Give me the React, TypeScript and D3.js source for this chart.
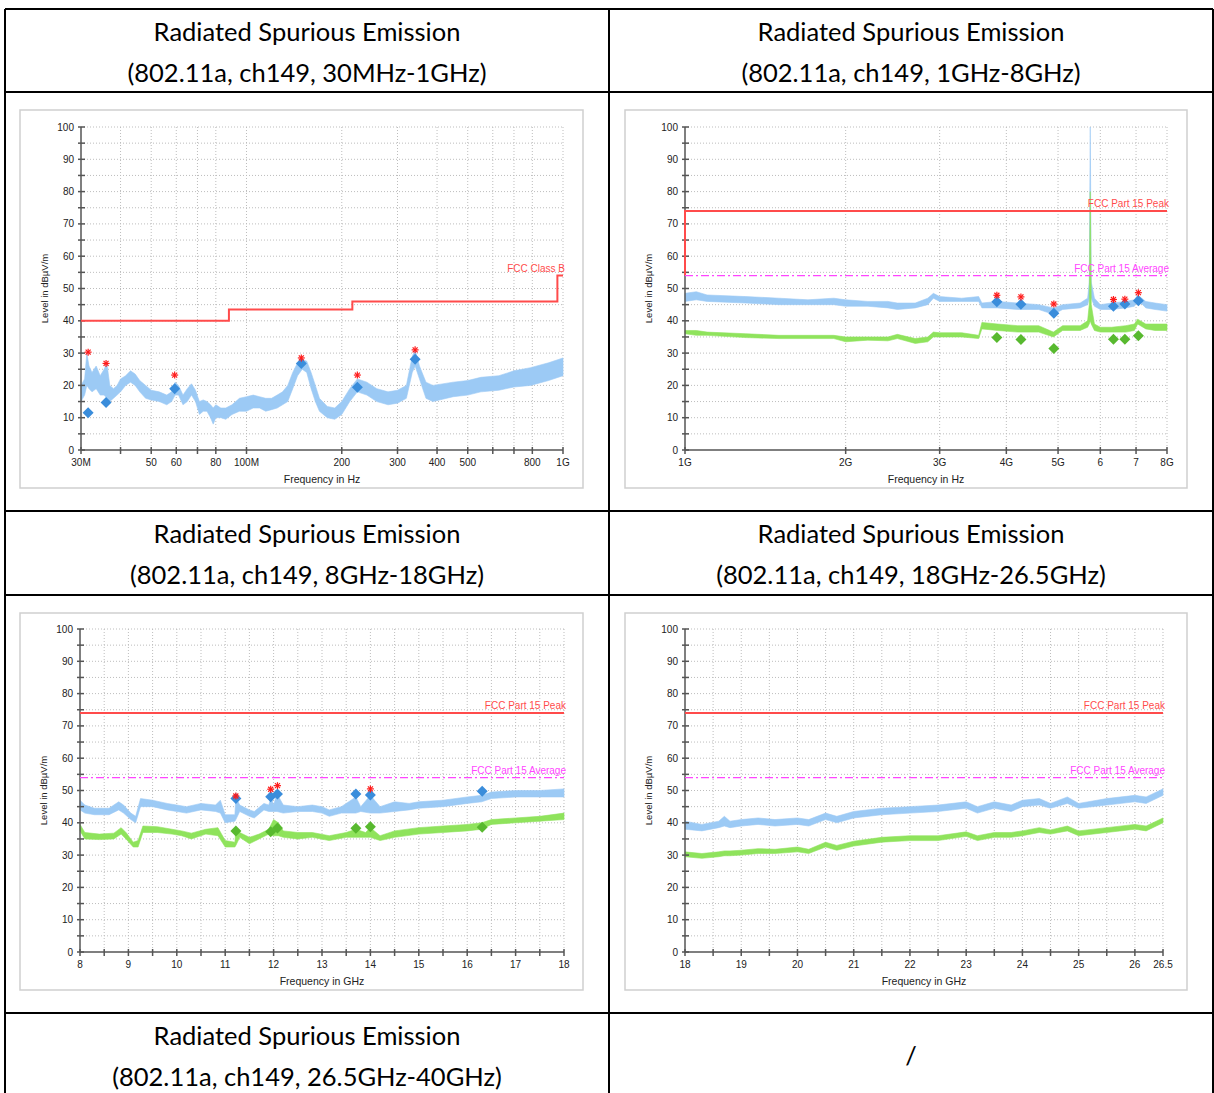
import React from 'react'
import * as d3 from 'd3'

// ---------- chart 1: 30MHz - 1GHz (MHz) ----------
const c1Freq = [30, 30.8, 31.3, 31.8, 32.5, 33.5, 34.5, 35.5, 36.2, 37, 38, 39, 40, 41.5, 43, 44.5, 46, 48, 50, 53, 56, 58, 59.5, 61, 63, 65, 67, 69, 71, 73, 75, 77, 78.5, 80, 83, 86, 90, 95, 100, 105, 110, 115, 120, 125, 130, 135, 140, 145, 150, 155, 160, 165, 170, 180, 190, 200, 212, 224, 240, 258, 280, 300, 320, 334, 341, 352, 369, 388, 450, 500, 550, 627, 700, 790, 900, 1000]
const c1Lo = [15, 17, 20, 19, 18, 19, 17, 17, 16, 15, 16, 17, 18, 20, 21, 20, 18, 16, 15.5, 15, 14, 15, 17, 17, 14, 15, 17, 15, 11, 12, 12, 10, 8, 10, 10, 9.5, 11, 12, 12, 13, 13, 12, 12.5, 13, 14, 15, 19, 23, 25, 24, 19, 15, 12, 10, 9.5, 11, 15, 18, 17, 15, 14, 14.5, 16, 24, 26, 22, 16, 15, 16.5, 17, 18, 18.5, 19.5, 20, 21.5, 23]
const c1Hi = [20, 22, 30, 26, 24, 26, 23, 25, 27, 20, 19, 20, 22, 23, 24.5, 23.5, 21.5, 20, 18.5, 18, 17, 18, 21, 20, 17, 19, 20.5, 18.5, 15, 15.5, 15, 14, 13, 14, 13, 13, 14, 16, 16.5, 17, 16.5, 16, 16, 17, 18, 20, 24, 27, 28, 27.5, 24, 20, 16, 13.5, 13, 15, 19, 22, 21, 19, 18, 18.5, 20, 29, 31, 26, 21, 20, 21, 21.5, 22.5, 23, 24.5, 25.5, 27, 28.5]
const c1LimitFreq = [30, 88, 88, 216, 216, 960, 960, 1000]
const c1LimitLevel = [40, 40, 43.5, 43.5, 46, 46, 54, 54]
const c1MarkFreq = [31.6, 36.0, 59.3, 149, 224, 341]
const c1StarLevel = [30.3, 26.8, 23.2, 28.5, 23.2, 31.0]
const c1QpLevel = [11.5, 14.7, 19.0, 26.8, 19.4, 28.1]
const c1Ticks = [30, 40, 50, 60, 70, 80, 100, 200, 300, 400, 500, 600, 700, 800, 1000]
const c1TickLabels = ['30M', '', '50', '60', '', '80', '100M', '200', '300', '400', '500', '', '', '800', '1G']

// ---------- chart 2: 1GHz - 8GHz (GHz) ----------
const c2Freq = [1.0, 1.05, 1.1, 1.3, 1.5, 1.7, 1.9, 2.0, 2.2, 2.4, 2.5, 2.7, 2.85, 2.92, 3.0, 3.3, 3.55, 3.6, 3.85, 4.2, 4.6, 4.9, 5.1, 5.5, 5.68, 5.72, 5.745, 5.77, 5.85, 6.0, 6.3, 6.7, 6.95, 7.05, 7.3, 7.6, 8.0]
const c2BlueLo = [46, 46.5, 46, 45.5, 45, 45, 45, 44.5, 44.5, 44, 43.5, 44, 45, 47, 46, 46, 46, 44, 44, 43.5, 43.5, 42, 43.5, 44, 45, 47, 47, 47, 44.5, 43.5, 43.5, 44, 44.5, 46.5, 44, 43.5, 43]
const c2BlueHi = [48.5, 49, 48, 47.5, 47, 46.5, 47, 46.5, 46, 46, 45.5, 45.5, 47, 48.5, 47.5, 47, 47.5, 45.5, 46, 45.5, 45, 44, 45, 45.5, 47, 52, 100, 52, 47, 45, 45.5, 46, 46.5, 48, 46, 45.5, 45]
const c2GreenLo = [36, 35.5, 35.5, 34.8, 34.5, 34.5, 34.5, 33.5, 34, 33.8, 34.5, 33, 33.5, 35, 35, 35, 34.5, 37.5, 37, 36.5, 36.5, 35, 37, 37, 38, 39, 40, 39, 37, 36.5, 36.5, 36.5, 37, 39, 37.5, 37, 37]
const c2GreenHi = [37, 37, 36.5, 36, 35.5, 35.5, 35.5, 35, 35, 35, 35.8, 34.5, 35, 36.5, 36.3, 36.3, 35.5, 39.5, 39, 38.5, 38.5, 36.5, 38.5, 38.5, 40, 45, 80, 45, 39, 38, 38, 38.5, 39, 40.5, 39, 39, 39]
const c2MarkFreq = [3.84, 4.26, 4.91, 6.35, 6.67, 7.07]
const c2StarLevel = [47.9, 47.4, 45.2, 46.6, 46.7, 48.7]
const c2PeakLevel = [45.9, 45.1, 42.3, 44.5, 45.2, 46.2]
const c2AvgLevel = [34.8, 34.2, 31.4, 34.3, 34.3, 35.4]
const c2Ticks = [1, 2, 3, 4, 5, 6, 7, 8]
const c2TickLabels = ['1G', '2G', '3G', '4G', '5G', '6', '7', '8G']

// ---------- chart 3: 8GHz - 18GHz ----------
const c3Freq = [8.0, 8.1, 8.3, 8.6, 8.8, 8.9, 9.05, 9.15, 9.25, 9.5, 9.8, 10.0, 10.2, 10.5, 10.8, 10.9, 11.0, 11.2, 11.22, 11.3, 11.5, 11.6, 11.8, 11.9, 11.95, 12.0, 12.07, 12.2, 12.5, 12.8, 13.0, 13.15, 13.4, 13.7, 13.8, 14.0, 14.2, 14.5, 14.8, 15.0, 15.5, 16.0, 16.3, 16.5, 17.0, 17.5, 18.0]
const c3BlueLo = [44, 43, 42.5, 42.5, 44, 43, 41, 40, 45, 45, 44, 43.5, 43, 44, 43.5, 43, 40, 40.5, 41, 43.5, 42, 41.5, 44, 43.5, 43.5, 43.5, 43.5, 43, 43.5, 43.5, 43, 42, 43, 43, 43.5, 43, 43, 43.5, 44, 44.5, 45, 46, 46.5, 47.5, 48, 48, 48]
const c3BlueHi = [47, 45.5, 44.5, 44.5, 46.5, 45.5, 43, 42, 47.5, 47, 46, 45.5, 45, 46, 45.5, 47, 42.5, 42.5, 48, 45.5, 44, 43.5, 46, 45.5, 48, 45.5, 49, 45.5, 45, 45.5, 45, 44, 45, 48, 45, 48.5, 45, 46.5, 46, 46.5, 47, 48, 48.5, 49.5, 50, 50, 50.5]
const c3GreenFreq = [8.0, 8.1, 8.4, 8.7, 8.85, 8.95, 9.1, 9.2, 9.3, 9.6, 9.9, 10.1, 10.3, 10.6, 10.85, 11.0, 11.2, 11.22, 11.3, 11.5, 11.7, 11.9, 12.0, 12.1, 12.2, 12.5, 12.8, 13.15, 13.5, 13.7, 13.9, 14.0, 14.2, 14.5, 15.0, 15.5, 16.0, 16.3, 16.5, 17.0, 17.5, 18.0]
const c3GreenLo = [37.5, 35, 34.8, 35, 36.5, 35, 32.5, 32.5, 37, 37, 36.5, 36, 35, 36.5, 36, 32.5, 32.5, 33, 35.5, 33.5, 35, 36.5, 36, 36, 35.5, 35, 35.5, 34.5, 35.5, 35.5, 35.5, 35.5, 34.5, 35.5, 36.5, 37, 37.5, 38, 39.5, 40, 40.5, 41]
const c3GreenHi = [39.5, 37, 36.5, 36.8, 38.5, 37, 34, 34.5, 39, 38.8, 38, 37.5, 36.8, 38, 38.5, 34.5, 34, 38, 37, 35.5, 36.5, 38, 41, 40, 37.5, 37, 37, 36, 37, 38, 37, 38.5, 36, 37.5, 38.5, 39, 39.5, 40, 41, 41.5, 42, 43]
const c3MarkFreq = [11.22, 11.94, 12.08, 13.7, 14.0, 16.31]
const c3PeakLevel = [47.5, 48.1, 48.9, 48.9, 48.6, 49.8]
const c3AvgLevel = [37.5, 37.2, 38.4, 38.3, 38.8, 38.6]
const c3StarFreq = [11.22, 11.94, 12.08, 14.0]
const c3StarLevel = [48.3, 50.4, 51.5, 50.5]
const c3Labels = ['8', '9', '10', '11', '12', '13', '14', '15', '16', '17', '18']

// ---------- chart 4: 18GHz - 26.5GHz ----------
const c4Freq = [18.0, 18.3, 18.6, 18.7, 18.8, 19.0, 19.3, 19.6, 20.0, 20.2, 20.5, 20.7, 21.0, 21.5, 22.0, 22.5, 23.0, 23.2, 23.5, 23.8, 24.0, 24.3, 24.5, 24.8, 25.0, 25.5, 26.0, 26.2, 26.5]
const c4BlueLo = [38, 37.5, 38.5, 39, 38.5, 39, 39.5, 39, 39.5, 39, 41, 40, 41.5, 42.5, 43, 43.5, 44.5, 43, 44.5, 43.5, 45, 45.5, 44.5, 46, 44.5, 45.5, 46.5, 46, 48.5]
const c4BlueHi = [40.5, 39.5, 40.5, 42, 40.5, 41, 41.5, 41, 41.5, 41, 43, 42, 43.5, 44.5, 45, 45.5, 46.5, 45, 46.5, 45.5, 47, 47.5, 46, 48, 46, 47.5, 48.5, 48, 50.5]
const c4GreenLo = [29.5, 29, 29.5, 29.8, 29.8, 30, 30.5, 30.5, 31, 30.5, 32.5, 31.5, 32.8, 34, 34.5, 34.5, 35.8, 34.5, 35.5, 35.5, 36, 37, 36.5, 37.5, 36, 37, 38, 37.5, 40]
const c4GreenHi = [31, 30.5, 31, 31.3, 31.3, 31.5, 32, 31.8, 32.5, 31.8, 34, 33, 34.3, 35.5, 36, 36, 37.2, 36, 37, 37, 37.5, 38.5, 37.8, 39, 37.5, 38.5, 39.5, 39, 41.5]
const c4Labels = ['18', '19', '20', '21', '22', '23', '24', '25', '26', '26.5']

// ---------- shared ----------
const peakLimitFreq2 = [1, 1, 8]
const peakLimitLevel2 = [54, 74, 74]
const peakLimitLevel = [74, 74]
const avgLimitLevel = [54, 54]

const headers = [
  ['Radiated Spurious Emission', '(802.11a, ch149, 30MHz-1GHz)'],
  ['Radiated Spurious Emission', '(802.11a, ch149, 1GHz-8GHz)'],
  ['Radiated Spurious Emission', '(802.11a, ch149, 8GHz-18GHz)'],
  ['Radiated Spurious Emission', '(802.11a, ch149, 18GHz-26.5GHz)'],
  ['Radiated Spurious Emission', '(802.11a, ch149, 26.5GHz-40GHz)'],
]

const BLUE = '#9ccaf5'
const GREEN = '#8fe35c'
const BLUE_D = '#3a8ddb'
const GREEN_D = '#58b92f'
const RED = '#ff4b4b'
const MAGENTA = '#ff45ff'
const AXIS = '#555'
const FONT = "'Liberation Sans', Arial, sans-serif"

type Band = { f: number[]; lo: number[]; hi: number[]; color: string }
type Limit = { f: number[]; v: number[]; color: string; dash?: string; label: string }
type Dots = { f: number[]; v: number[]; color: string }

type ChartProps = {
  frame: [number, number, number, number]
  plot: { left: number; right: number; top: number; bottom: number }
  log: boolean
  domain: [number, number]
  ticks: number[]
  labelVals: number[]
  labels: string[]
  xTitle: string
  bands: Band[]
  limits: Limit[]
  diamonds: Dots[]
  stars: { f: number[]; v: number[] }
}

function Chart(p: ChartProps) {
  const { plot } = p
  const x = (p.log ? d3.scaleLog() : d3.scaleLinear()).domain(p.domain).range([plot.left, plot.right])
  const y = d3.scaleLinear().domain([0, 100]).range([plot.bottom, plot.top])
  const yMinor = d3.range(0, 101, 5)
  const yMajor = d3.range(0, 101, 10)

  const line = d3.line<[number, number]>().x(d => x(d[0])).y(d => y(d[1]))
  const diamond = 'M0,-5.5L5.5,0L0,5.5L-5.5,0Z'

  return (
    <g>
      <rect x={p.frame[0]} y={p.frame[1]} width={p.frame[2]} height={p.frame[3]} fill="#fff" stroke="#cfcfcf" strokeWidth={1.5} />
      {/* grid */}
      <g stroke="#bdbdbd" strokeWidth={1} strokeDasharray="1,2">
        {yMinor.filter(v => v > 0).map(v => (
          <line key={'h' + v} x1={plot.left} x2={plot.right} y1={y(v)} y2={y(v)} />
        ))}
        {p.ticks.filter(t => t !== p.domain[0]).map(t => (
          <line key={'v' + t} x1={x(t)} x2={x(t)} y1={plot.top} y2={plot.bottom} />
        ))}
      </g>
      {/* traces */}
      {p.bands.map((b, i) => {
        const area = d3.area<number>()
          .x((_, j) => x(b.f[j]))
          .y0((_, j) => y(b.lo[j]))
          .y1((_, j) => y(b.hi[j]))
        return <path key={'b' + i} d={area(b.f) || ''} fill={b.color} stroke={b.color} strokeWidth={0.6} />
      })}
      {/* axes */}
      <g stroke={AXIS} strokeWidth={1.5}>
        <line x1={plot.left} x2={plot.left} y1={plot.top} y2={plot.bottom} />
        <line x1={plot.left} x2={plot.right} y1={plot.bottom} y2={plot.bottom} />
        {yMinor.map(v => (
          <line key={'yt' + v} x1={plot.left - 3} x2={plot.left + 4} y1={y(v)} y2={y(v)} />
        ))}
        {p.ticks.map(t => (
          <line key={'xt' + t} x1={x(t)} x2={x(t)} y1={plot.bottom - 3} y2={plot.bottom + 4} />
        ))}
      </g>
      {/* limits */}
      {p.limits.map((l, i) => {
        const pts = l.f.map((f, j) => [f, l.v[j]] as [number, number])
        return (
          <g key={'l' + i}>
            <path d={line(pts) || ''} fill="none" stroke={l.color} strokeWidth={l.dash ? 1.3 : 2} strokeDasharray={l.dash} />
            <text x={plot.right + 2} y={y(l.v[l.v.length - 1]) - 4} textAnchor="end" fontSize={10} fill={l.color} fontFamily={FONT}>{l.label}</text>
          </g>
        )
      })}
      {/* markers */}
      {p.diamonds.map((d, i) => (
        <g key={'d' + i}>
          {d.f.map((f, j) => (
            <path key={j} d={diamond} transform={`translate(${x(f)},${y(d.v[j])})`} fill={d.color} />
          ))}
        </g>
      ))}
      <g stroke="#ff1a1a" strokeWidth={1.2}>
        {p.stars.f.map((f, j) => {
          const cx = x(f), cy = y(p.stars.v[j]), r = 3.5, q = 2.5
          return (
            <g key={'s' + j}>
              <line x1={cx - r} x2={cx + r} y1={cy} y2={cy} />
              <line x1={cx} x2={cx} y1={cy - r} y2={cy + r} />
              <line x1={cx - q} x2={cx + q} y1={cy - q} y2={cy + q} />
              <line x1={cx - q} x2={cx + q} y1={cy + q} y2={cy - q} />
            </g>
          )
        })}
      </g>
      <g fontFamily={FONT} fontSize={10} fill="#222">
        {yMajor.map(v => (
          <text key={'yl' + v} x={plot.left - 7} y={y(v) + 3.5} textAnchor="end">{v}</text>
        ))}
        {p.labelVals.map((t, i) => p.labels[i] ? (
          <text key={'xl' + i} x={x(t)} y={plot.bottom + 16} textAnchor="middle">{p.labels[i]}</text>
        ) : null)}
        <text x={(plot.left + plot.right) / 2} y={plot.bottom + 33} textAnchor="middle" fontSize={10.5}>{p.xTitle}</text>
        <text transform={`translate(${plot.left - 33},${(plot.top + plot.bottom) / 2}) rotate(-90)`} textAnchor="middle" fontSize={9.5}>Level in dBµV/m</text>
      </g>
    </g>
  )
}

export default function App() {
  const colX = [5, 609, 1213]
  const rowY = [9, 92, 511, 595, 1013]
  const centers = [307, 911]
  const headerRows = [rowY[0], rowY[2], rowY[4]]

  const c3Ticks = d3.range(8, 18.01, 0.5)
  const c3LabelVals = c3Labels.map(Number)
  const c4Ticks = d3.range(18, 26.51, 0.5)
  const c4LabelVals = c4Labels.map(Number)

  return (
    <svg width={1214} height={1093} style={{ position: 'absolute', left: 0, top: 0 }}>
      <rect width={1214} height={1093} fill="#fff" />
      {/* table */}
      <g stroke="#000" strokeWidth={2}>
        {rowY.map(v => <line key={v} x1={colX[0]} x2={colX[2]} y1={v} y2={v} />)}
        {colX.map(v => <line key={v} x1={v} x2={v} y1={rowY[0]} y2={1093} />)}
      </g>
      <g fontFamily="Lato, 'Open Sans', sans-serif" fontSize={25.5} fill="#000" textAnchor="middle">
        {headers.map((h, i) => {
          const top = headerRows[Math.floor(i / 2)]
          const cx = centers[i % 2]
          return (
            <g key={i}>
              <text x={cx} y={top + 32}>{h[0]}</text>
              <text x={cx} y={top + 73}>{h[1]}</text>
            </g>
          )
        })}
        <text x={centers[1]} y={rowY[4] + 52}>/</text>
      </g>

      <Chart
        frame={[20, 110, 563, 378]}
        plot={{ left: 81, right: 563, top: 127, bottom: 450 }}
        log={true}
        domain={[30, 1000]}
        ticks={c1Ticks}
        labelVals={c1Ticks}
        labels={c1TickLabels}
        xTitle="Frequency in Hz"
        bands={[{ f: c1Freq, lo: c1Lo, hi: c1Hi, color: BLUE }]}
        limits={[{ f: c1LimitFreq, v: c1LimitLevel, color: RED, label: 'FCC Class B' }]}
        diamonds={[{ f: c1MarkFreq, v: c1QpLevel, color: BLUE_D }]}
        stars={{ f: c1MarkFreq, v: c1StarLevel }}
      />
      <Chart
        frame={[625, 110, 562, 378]}
        plot={{ left: 685, right: 1167, top: 127, bottom: 450 }}
        log={true}
        domain={[1, 8]}
        ticks={c2Ticks}
        labelVals={c2Ticks}
        labels={c2TickLabels}
        xTitle="Frequency in Hz"
        bands={[
          { f: c2Freq, lo: c2BlueLo, hi: c2BlueHi, color: BLUE },
          { f: c2Freq, lo: c2GreenLo, hi: c2GreenHi, color: GREEN },
        ]}
        limits={[
          { f: peakLimitFreq2, v: peakLimitLevel2, color: RED, label: 'FCC Part 15  Peak' },
          { f: [1, 8], v: avgLimitLevel, color: MAGENTA, dash: '8,3,2,3', label: 'FCC Part 15  Average' },
        ]}
        diamonds={[
          { f: c2MarkFreq, v: c2PeakLevel, color: BLUE_D },
          { f: c2MarkFreq, v: c2AvgLevel, color: GREEN_D },
        ]}
        stars={{ f: c2MarkFreq, v: c2StarLevel }}
      />
      <Chart
        frame={[20, 613, 563, 377]}
        plot={{ left: 80, right: 564, top: 629, bottom: 952 }}
        log={false}
        domain={[8, 18]}
        ticks={c3Ticks}
        labelVals={c3LabelVals}
        labels={c3Labels}
        xTitle="Frequency in GHz"
        bands={[
          { f: c3Freq, lo: c3BlueLo, hi: c3BlueHi, color: BLUE },
          { f: c3GreenFreq, lo: c3GreenLo, hi: c3GreenHi, color: GREEN },
        ]}
        limits={[
          { f: [8, 18], v: peakLimitLevel, color: RED, label: 'FCC Part 15  Peak' },
          { f: [8, 18], v: avgLimitLevel, color: MAGENTA, dash: '8,3,2,3', label: 'FCC Part 15  Average' },
        ]}
        diamonds={[
          { f: c3MarkFreq, v: c3PeakLevel, color: BLUE_D },
          { f: c3MarkFreq, v: c3AvgLevel, color: GREEN_D },
        ]}
        stars={{ f: c3StarFreq, v: c3StarLevel }}
      />
      <Chart
        frame={[625, 613, 562, 377]}
        plot={{ left: 685, right: 1163, top: 629, bottom: 952 }}
        log={false}
        domain={[18, 26.5]}
        ticks={c4Ticks}
        labelVals={c4LabelVals}
        labels={c4Labels}
        xTitle="Frequency in GHz"
        bands={[
          { f: c4Freq, lo: c4BlueLo, hi: c4BlueHi, color: BLUE },
          { f: c4Freq, lo: c4GreenLo, hi: c4GreenHi, color: GREEN },
        ]}
        limits={[
          { f: [18, 26.5], v: peakLimitLevel, color: RED, label: 'FCC Part 15  Peak' },
          { f: [18, 26.5], v: avgLimitLevel, color: MAGENTA, dash: '8,3,2,3', label: 'FCC Part 15  Average' },
        ]}
        diamonds={[]}
        stars={{ f: [], v: [] }}
      />
    </svg>
  )
}
